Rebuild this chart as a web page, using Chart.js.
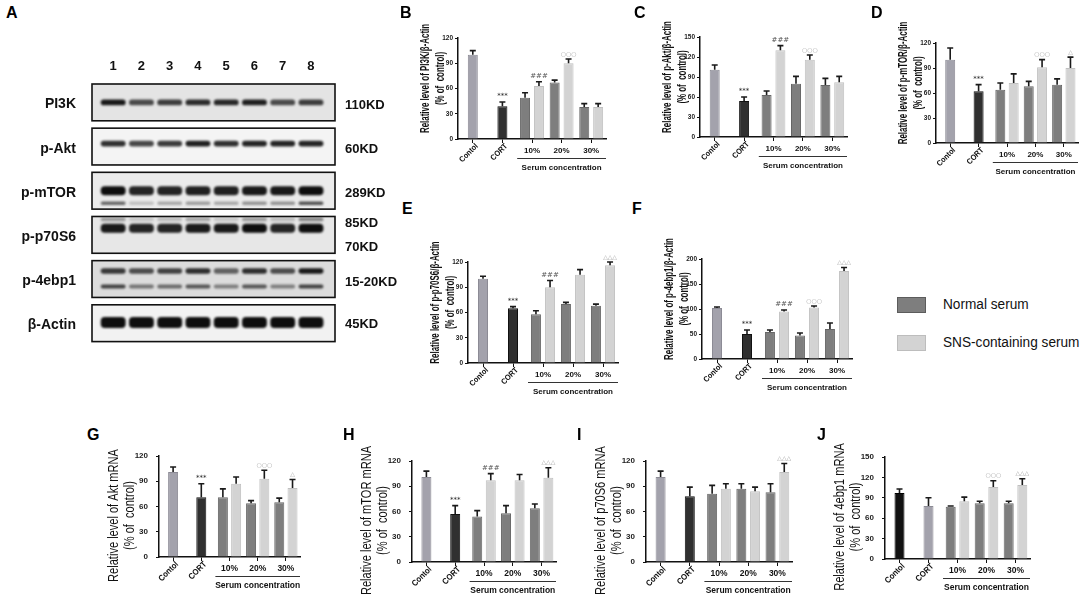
<!DOCTYPE html>
<html>
<head>
<meta charset="utf-8">
<script src="https://cdn.jsdelivr.net/npm/chart.js@4.4.1/dist/chart.umd.min.js"></script>
<style>
  body { margin: 0; background: #fff; width: 1084px; height: 596px; position: relative; overflow: hidden; }
  canvas { position: absolute; }
  .letter { position: absolute; font: bold 16px 'Liberation Sans', Arial, sans-serif; color: #000; z-index: 2; }
  .leg-box { position: absolute; width: 27px; height: 14px; }
  .leg-text { position: absolute; font: 15.5px 'Liberation Sans', Arial, sans-serif; color: #111; line-height: 18px;
              white-space: nowrap; transform: scaleX(0.88); transform-origin: 0 50%; }
</style>
</head>
<body>
<script>
// ---- shared labels
const groupLabels = ['Contol', 'CORT', '10%', '20%', '30%'];
const seriesNames = ['Normal serum', 'SNS-containing serum'];
const serumLabel = 'Serum concentration';
const panelLetters = ['A', 'B', 'C', 'D', 'E', 'F', 'G', 'H', 'I', 'J'];

// ---- western blot (A): band intensity per lane
const laneLabels = ['1', '2', '3', '4', '5', '6', '7', '8'];
const blotProteins = ['PI3K', 'p-Akt', 'p-mTOR', 'p-p70S6', 'p-4ebp1', 'β-Actin'];
const blotMarkers = ['110KD', '60KD', '289KD', '85KD', '70KD', '15-20KD', '45KD'];
const pi3kBand = [0.95, 0.72, 0.78, 0.86, 0.88, 0.92, 0.72, 0.78];
const aktBand = [0.85, 0.75, 0.8, 0.92, 0.85, 0.9, 0.9, 0.9];
const mtorBand = [1, 0.9, 0.9, 0.92, 0.92, 0.95, 0.95, 1];
const mtorLowBand = [0.6, 0.2, 0.3, 0.35, 0.3, 0.4, 0.4, 0.7];
const p70Band = [0.95, 0.9, 0.9, 0.95, 0.95, 1, 0.9, 1];
const p70UpperBand = [0.35, 0.15, 0.2, 0.3, 0.15, 0.35, 0.2, 0.45];
const ebp1UpperBand = [0.8, 0.7, 0.75, 0.85, 0.6, 0.85, 0.7, 0.95];
const ebp1LowerBand = [0.75, 0.5, 0.55, 0.65, 0.45, 0.65, 0.45, 0.75];
const actinBand = [1, 1, 1, 1, 1, 1, 1, 1];

// ---- B: PI3K/β-Actin
const pi3kNormal = [100, 39, 49, 67, 38];
const pi3kNormalErr = [5, 5, 6, 3, 4];
const pi3kSns = [null, null, 63, 90, 38];
const pi3kSnsErr = [null, null, 5, 5, 4];
const pi3kNormalSig = ['', '***', '', '', ''];
const pi3kSnsSig = ['', '', '###', '○○○', ''];

// ---- C: p-Akt/β-Actin
const aktNormal = [101, 54, 63, 80, 78];
const aktNormalErr = [7, 6, 6, 11, 10];
const aktSns = [null, null, 130, 116, 82];
const aktSnsErr = [null, null, 7, 7, 9];
const aktNormalSig = ['', '***', '', '', ''];
const aktSnsSig = ['', '', '###', '○○○', ''];

// ---- D: p-mTOR/β-Actin
const mtorNormal = [100, 62, 64, 68, 70];
const mtorNormalErr = [14, 8, 8, 6, 7];
const mtorSns = [null, null, 72, 91, 90];
const mtorSnsErr = [null, null, 11, 9, 13];
const mtorNormalSig = ['', '***', '', '', ''];
const mtorSnsSig = ['', '', '', '○○○', '△'];

// ---- E: p-p70S6/β-Actin
const p70Normal = [100, 65, 58, 70, 68];
const p70NormalErr = [3, 2, 4, 2, 2];
const p70Sns = [null, null, 90, 105, 116];
const p70SnsErr = [null, null, 8, 6, 4];
const p70NormalSig = ['', '***', '', '', ''];
const p70SnsSig = ['', '', '###', '', '△△△'];

// ---- F: p-4ebp1/β-Actin
const ebp1Normal = [102, 50, 54, 47, 60];
const ebp1NormalErr = [2, 8, 4, 5, 12];
const ebp1Sns = [null, null, 95, 103, 176];
const ebp1SnsErr = [null, null, 3, 3, 7];
const ebp1NormalSig = ['', '***', '', '', ''];
const ebp1SnsSig = ['', '', '###', '○○○', '△△△'];

// ---- G: Akt mRNA
const aktMrnaNormal = [101, 71, 71, 64, 65];
const aktMrnaNormalErr = [6, 16, 10, 3, 5];
const aktMrnaSns = [null, null, 87, 93, 82];
const aktMrnaSnsErr = [null, null, 8, 10, 10];
const aktMrnaNormalSig = ['', '***', '', '', ''];
const aktMrnaSnsSig = ['', '', '', '○○○', '△'];

// ---- H: mTOR mRNA
const mtorMrnaNormal = [101, 57, 54, 58, 64];
const mtorMrnaNormalErr = [7, 10, 7, 9, 5];
const mtorMrnaSns = [null, null, 97, 97, 100];
const mtorMrnaSnsErr = [null, null, 8, 7, 12];
const mtorMrnaNormalSig = ['', '***', '', '', ''];
const mtorMrnaSnsSig = ['', '', '###', '', '△△△'];

// ---- I: p70S6 mRNA
const p70MrnaNormal = [101, 78, 81, 87, 83];
const p70MrnaNormalErr = [7, 11, 10, 6, 10];
const p70MrnaSns = [null, null, 87, 84, 107];
const p70MrnaSnsErr = [null, null, 6, 5, 10];
const p70MrnaNormalSig = ['', '', '', '', ''];
const p70MrnaSnsSig = ['', '', '', '', '△△△'];

// ---- J: 4ebp1 mRNA
const ebp1MrnaNormal = [97, 78, 77, 82, 82];
const ebp1MrnaNormalErr = [6, 12, 1, 3, 3];
const ebp1MrnaSns = [null, null, 85, 106, 109];
const ebp1MrnaSnsErr = [null, null, 6, 9, 9];
const ebp1MrnaNormalSig = ['', '', '', '', ''];
const ebp1MrnaSnsSig = ['', '', '', '○○○', '△△△'];

const SANS = "'Liberation Sans', Arial, sans-serif";
Chart.defaults.font.family = SANS;
Chart.defaults.color = '#111';
Chart.defaults.animation = false;

const CONTROL_COLOR = '#a3a2ac';
const CORT_COLOR = '#303030';
const NORMAL_COLOR = '#7e7e7e';
const SNS_COLOR = '#d3d3d3';
const SIG_COLORS = { '*': '#222', '#': '#555', '○': '#a8a8a8', '△': '#9a9a9a' };

// error bars (upper only) + significance marks, drawn through the y scale
const errorBarPlugin = {
  id: 'errorBars',
  afterDatasetsDraw(chart) {
    const ctx = chart.ctx;
    const ys = chart.scales.y;
    chart.data.datasets.forEach((ds, di) => {
      const meta = chart.getDatasetMeta(di);
      meta.data.forEach((bar, i) => {
        const v = ds.data[i];
        if (v == null) return;
        const top = ys.getPixelForValue(v + (ds.errors[i] || 0));
        ctx.save();
        ctx.strokeStyle = '#1a1a1a';
        ctx.lineWidth = 1.6;
        ctx.beginPath();
        ctx.moveTo(bar.x, bar.y);
        ctx.lineTo(bar.x, top);
        ctx.moveTo(bar.x - 3, top);
        ctx.lineTo(bar.x + 3, top);
        ctx.stroke();
        const s = ds.sig[i];
        if (s) {
          const round = s[0] === '○' || s[0] === '△';
          ctx.fillStyle = SIG_COLORS[s[0]] || '#222';
          ctx.font = `${round ? 6 : 7}px 'DejaVu Sans', sans-serif`;
          ctx.textAlign = 'center';
          ctx.textBaseline = 'bottom';
          ctx.fillText(s, bar.x, top - 2);
        }
        ctx.restore();
      });
    });
  }
};

// category labels: first two rotated, groups flat, plus the serum bracket
const xLabelPlugin = {
  id: 'xLabels',
  afterDraw(chart, args, opts) {
    const { ctx, chartArea } = chart;
    const xs = chart.scales.x;
    const y0 = chartArea.bottom;
    const cat = xs.width / groupLabels.length;
    const fs = opts.big ? 8.5 : 8;
    ctx.save();
    ctx.fillStyle = '#111';
    ctx.font = `bold ${fs}px ${SANS}`;
    groupLabels.forEach((lab, i) => {
      const px = xs.getPixelForValue(i);
      if (i < 2) {
        ctx.save();
        ctx.translate(px + 4, y0 + 6);
        ctx.rotate(-Math.PI / 4);
        ctx.scale(0.9, 1);
        ctx.textAlign = 'right';
        ctx.textBaseline = 'middle';
        ctx.fillText(lab, 0, 0);
        ctx.restore();
      } else {
        ctx.textAlign = 'center';
        ctx.textBaseline = 'middle';
        ctx.fillText(lab, px, y0 + 12);
      }
    });
    const x1 = xs.getPixelForValue(2) - cat / 2;
    const x2 = chartArea.right;
    ctx.strokeStyle = '#333';
    ctx.lineWidth = 1;
    ctx.beginPath();
    ctx.moveTo(x1, y0 + 19.5);
    ctx.lineTo(x2, y0 + 19.5);
    ctx.stroke();
    ctx.textAlign = 'center';
    ctx.textBaseline = 'middle';
    ctx.fillText(serumLabel, (x1 + x2) / 2, y0 + 29);
    ctx.restore();
  }
};

// condensed two-line y title
const yTitlePlugin = {
  id: 'yTitle',
  afterDraw(chart, args, opts) {
    const { ctx, chartArea } = chart;
    const cy = (chartArea.top + chartArea.bottom) / 2 + opts.dy;
    ctx.save();
    ctx.fillStyle = '#111';
    ctx.font = `${opts.weight} ${opts.size}px ${SANS}`;
    ctx.textAlign = 'center';
    ctx.textBaseline = 'middle';
    opts.lines.forEach((line, i) => {
      ctx.save();
      ctx.translate(chartArea.left - opts.offsets[i], cy);
      ctx.rotate(-Math.PI / 2);
      ctx.scale(opts.squeeze, 1);
      ctx.fillText(line, 0, 0);
      ctx.restore();
    });
    ctx.restore();
  }
};

function makePanel(p) {
  const yAxisW = p.big ? 56 : 42;
  const padTop = 24, xAxisH = 48, padRight = 8;
  const left = p.axisX - yAxisW;
  const top = p.yTop - padTop;
  const canvas = document.createElement('canvas');
  canvas.width = p.right + padRight - left;
  canvas.height = p.y0 + xAxisH - top;
  canvas.style.left = left + 'px';
  canvas.style.top = top + 'px';
  document.body.appendChild(canvas);

  const barOpts = { skipNull: true, categoryPercentage: 0.94, barPercentage: 0.9, maxBarThickness: 10, borderWidth: 1 };
  new Chart(canvas, {
    type: 'bar',
    data: {
      labels: groupLabels,
      datasets: [
        Object.assign({
          label: seriesNames[0], data: p.normal, errors: p.normalErr, sig: p.normalSig,
          backgroundColor: p.colors, borderColor: p.borders
        }, barOpts),
        Object.assign({
          label: seriesNames[1], data: p.sns, errors: p.snsErr, sig: p.snsSig,
          backgroundColor: SNS_COLOR, borderColor: '#c0c0c0'
        }, barOpts)
      ]
    },
    options: {
      responsive: false,
      animation: false,
      layout: { padding: { top: padTop, right: padRight, left: 0, bottom: 0 } },
      plugins: {
        legend: { display: false },
        tooltip: { enabled: false },
        xLabels: { big: p.big },
        yTitle: p.big
          ? { lines: p.title, size: 14, weight: 'normal', squeeze: 0.79, offsets: [45, 29], dy: 9 }
          : { lines: p.title, size: 12, weight: 'bold', squeeze: 0.66, offsets: [32, 17], dy: -10 }
      },
      scales: {
        x: {
          type: 'category',
          offset: true,
          ticks: { display: false },
          grid: { display: true, drawOnChartArea: false, offset: false, tickLength: 4, color: '#111', lineWidth: 1 },
          border: { display: true, color: '#111', width: 1.5 },
          afterFit: s => { s.height = xAxisH; }
        },
        y: {
          min: 0,
          max: p.max,
          ticks: { stepSize: p.step, padding: p.big ? 8 : 2, color: '#222', font: { size: p.big ? 8 : 6.5, weight: 'bold' } },
          grid: { drawOnChartArea: false, tickLength: 3, color: '#111' },
          border: { color: '#111', width: 1.5 },
          title: { display: false },
          afterFit: s => { s.width = yAxisW; }
        }
      }
    },
    plugins: [errorBarPlugin, xLabelPlugin, yTitlePlugin]
  });
}

const topColors = [CONTROL_COLOR, CORT_COLOR, NORMAL_COLOR, NORMAL_COLOR, NORMAL_COLOR];
const topBorders = ['#8c8b95', '#111', '#666', '#666', '#666'];
const ctl = '(% of  control)';

const panels = [
  { title: ['Relative level of PI3K/β-Actin', ctl], normal: pi3kNormal, normalErr: pi3kNormalErr, sns: pi3kSns, snsErr: pi3kSnsErr,
    normalSig: pi3kNormalSig, snsSig: pi3kSnsSig, max: 120, step: 30, axisX: 458, yTop: 38, y0: 139, right: 606 },
  { title: ['Relative level of p-Akt/β-Actin', ctl], normal: aktNormal, normalErr: aktNormalErr, sns: aktSns, snsErr: aktSnsErr,
    normalSig: aktNormalSig, snsSig: aktSnsSig, max: 150, step: 30, axisX: 700, yTop: 37, y0: 137, right: 847 },
  { title: ['Relative level of p-mTOR/β-Actin', ctl], normal: mtorNormal, normalErr: mtorNormalErr, sns: mtorSns, snsErr: mtorSnsErr,
    normalSig: mtorNormalSig, snsSig: mtorSnsSig, max: 120, step: 30, axisX: 936, yTop: 43, y0: 143, right: 1078 },
  { title: ['Relative level of p-p70S6/β-Actin', ctl], normal: p70Normal, normalErr: p70NormalErr, sns: p70Sns, snsErr: p70SnsErr,
    normalSig: p70NormalSig, snsSig: p70SnsSig, max: 120, step: 30, axisX: 468, yTop: 262, y0: 363, right: 618 },
  { title: ['Relative level of p-4ebp1/β-Actin', ctl], normal: ebp1Normal, normalErr: ebp1NormalErr, sns: ebp1Sns, snsErr: ebp1SnsErr,
    normalSig: ebp1NormalSig, snsSig: ebp1SnsSig, max: 200, step: 50, axisX: 702, yTop: 259, y0: 359, right: 852 },
  { title: ['Relative level of Akt mRNA', ctl], normal: aktMrnaNormal, normalErr: aktMrnaNormalErr, sns: aktMrnaSns, snsErr: aktMrnaSnsErr,
    normalSig: aktMrnaNormalSig, snsSig: aktMrnaSnsSig, max: 120, step: 30, axisX: 159, yTop: 456, y0: 557, right: 300, big: true },
  { title: ['Relative level of mTOR mRNA', ctl], normal: mtorMrnaNormal, normalErr: mtorMrnaNormalErr, sns: mtorMrnaSns, snsErr: mtorMrnaSnsErr,
    normalSig: mtorMrnaNormalSig, snsSig: mtorMrnaSnsSig, max: 120, step: 30, axisX: 412, yTop: 461, y0: 562, right: 556, big: true },
  { title: ['Relative level of p70S6 mRNA', ctl], normal: p70MrnaNormal, normalErr: p70MrnaNormalErr, sns: p70MrnaSns, snsErr: p70MrnaSnsErr,
    normalSig: p70MrnaNormalSig, snsSig: p70MrnaSnsSig, max: 120, step: 30, axisX: 646, yTop: 461, y0: 562, right: 792, big: true },
  { title: ['Relative level of 4ebp1 mRNA', ctl], normal: ebp1MrnaNormal, normalErr: ebp1MrnaNormalErr, sns: ebp1MrnaSns, snsErr: ebp1MrnaSnsErr,
    normalSig: ebp1MrnaNormalSig, snsSig: ebp1MrnaSnsSig, max: 150, step: 30, axisX: 885, yTop: 457, y0: 559, right: 1030, big: true,
    colors: ['#111', CONTROL_COLOR, NORMAL_COLOR, NORMAL_COLOR, NORMAL_COLOR], borders: ['#000', '#8c8b95', '#666', '#666', '#666'] }
];
panels.forEach(p => {
  p.colors = p.colors || topColors;
  p.borders = p.borders || topBorders;
  makePanel(p);
});

// ---- western blot drawn as floating bars on a lane / row scale
const ROW_PITCH = 1.2;
const BOX_BG = ['#e4e4e4', '#f4f4f4', '#ebebeb', '#e7e7e7', '#dcdcdc', '#f2f2f2'];

function bandDataset(intensity, row, center, thick) {
  const mid = row * ROW_PITCH + center;
  return {
    data: intensity.map((v, i) => ({ x: i + 1, y: [mid - thick / 2, mid + thick / 2] })),
    backgroundColor: intensity.map(v => `rgba(14,14,14,${v})`),
    grouped: false,
    barPercentage: 0.88,
    categoryPercentage: 1,
    borderRadius: 4,
    borderSkipped: false
  };
}

const blotBoxPlugin = {
  id: 'blotBoxes',
  beforeDatasetsDraw(chart) {
    const { ctx, chartArea } = chart;
    const ys = chart.scales.y;
    ctx.save();
    blotProteins.forEach((name, r) => {
      const y1 = ys.getPixelForValue(r * ROW_PITCH);
      const y2 = ys.getPixelForValue(r * ROW_PITCH + 1);
      ctx.fillStyle = BOX_BG[r];
      ctx.fillRect(chartArea.left, y1, chartArea.width, y2 - y1);
    });
    ctx.restore();
    ctx.save();
    ctx.filter = 'blur(1.1px)';
  },
  afterDatasetsDraw(chart) {
    const { ctx, chartArea } = chart;
    const ys = chart.scales.y;
    ctx.restore();
    ctx.save();
    ctx.strokeStyle = '#111';
    ctx.lineWidth = 1.6;
    blotProteins.forEach((name, r) => {
      const y1 = ys.getPixelForValue(r * ROW_PITCH);
      const y2 = ys.getPixelForValue(r * ROW_PITCH + 1);
      ctx.strokeRect(chartArea.left, y1, chartArea.width, y2 - y1);
    });
    ctx.restore();
  }
};

const markerRows = [0, 1, 2, 3, 3, 4, 5];
const markerOffsets = [0.58, 0.58, 0.58, 0.19, 0.83, 0.58, 0.52];

const blotCanvas = document.createElement('canvas');
blotCanvas.width = 400;
blotCanvas.height = 326;
blotCanvas.style.left = '0px';
blotCanvas.style.top = '40px';
document.body.appendChild(blotCanvas);

new Chart(blotCanvas, {
  type: 'bar',
  data: {
    datasets: [
      bandDataset(pi3kBand, 0, 0.5, 0.16),
      bandDataset(aktBand, 1, 0.42, 0.16),
      bandDataset(mtorBand, 2, 0.5, 0.24),
      bandDataset(mtorLowBand, 2, 0.84, 0.09),
      bandDataset(p70UpperBand, 3, 0.08, 0.1),
      bandDataset(p70Band, 3, 0.32, 0.24),
      bandDataset(ebp1UpperBand, 4, 0.28, 0.15),
      bandDataset(ebp1LowerBand, 4, 0.7, 0.11),
      bandDataset(actinBand, 5, 0.48, 0.3)
    ]
  },
  options: {
    responsive: false,
    animation: false,
    layout: { padding: { top: 0, right: 0, left: 0, bottom: 4 } },
    plugins: { legend: { display: false }, tooltip: { enabled: false } },
    scales: {
      x: {
        type: 'linear', position: 'top', min: 0.25, max: 8.85, offset: false,
        afterBuildTicks: a => { a.ticks = laneLabels.map((_, i) => ({ value: i + 1 })); },
        ticks: { callback: (v, i) => laneLabels[i], autoSkip: false, maxRotation: 0, padding: 10, color: '#111', font: { size: 13, weight: 'bold' } },
        grid: { display: false, drawTicks: false },
        border: { display: false },
        afterFit: s => { s.height = 44; }
      },
      y: {
        min: 0, max: 7, reverse: true,
        afterBuildTicks: a => { a.ticks = blotProteins.map((_, r) => ({ value: r * ROW_PITCH + 0.56 })); },
        ticks: { callback: (v, i) => blotProteins[i], autoSkip: false, padding: 16, color: '#111', font: { size: 14, weight: 'bold' } },
        grid: { display: false, drawTicks: false },
        border: { display: false },
        afterFit: s => { s.width = 92; }
      },
      y2: {
        position: 'right', min: 0, max: 7, reverse: true,
        afterBuildTicks: a => { a.ticks = markerRows.map((r, i) => ({ value: r * ROW_PITCH + markerOffsets[i] })); },
        ticks: { callback: (v, i) => blotMarkers[i], autoSkip: false, padding: 10, color: '#111', font: { size: 13, weight: 'bold' } },
        grid: { display: false, drawTicks: false },
        border: { display: false },
        afterFit: s => { s.width = 65; }
      }
    }
  },
  plugins: [blotBoxPlugin]
});

// ---- panel letters
const letterPos = [[6, 4], [400, 4], [634, 4], [871, 4], [402, 200], [632, 200], [87, 426], [343, 426], [577, 426], [817, 426]];
panelLetters.forEach((l, i) => {
  const d = document.createElement('div');
  d.className = 'letter';
  d.textContent = l;
  d.style.left = letterPos[i][0] + 'px';
  d.style.top = letterPos[i][1] + 'px';
  document.body.appendChild(d);
});

// ---- legend
const legendColors = [[NORMAL_COLOR, '#5c5c5c'], [SNS_COLOR, '#bdbdbd']];
seriesNames.forEach((name, i) => {
  const y = 297 + i * 38;
  const box = document.createElement('div');
  box.className = 'leg-box';
  box.style.left = '897px';
  box.style.top = y + 'px';
  box.style.background = legendColors[i][0];
  box.style.border = '1px solid ' + legendColors[i][1];
  document.body.appendChild(box);
  const t = document.createElement('div');
  t.className = 'leg-text';
  t.textContent = name;
  t.style.left = '943px';
  t.style.top = (y - 2) + 'px';
  document.body.appendChild(t);
});
</script>
</body>
</html>
